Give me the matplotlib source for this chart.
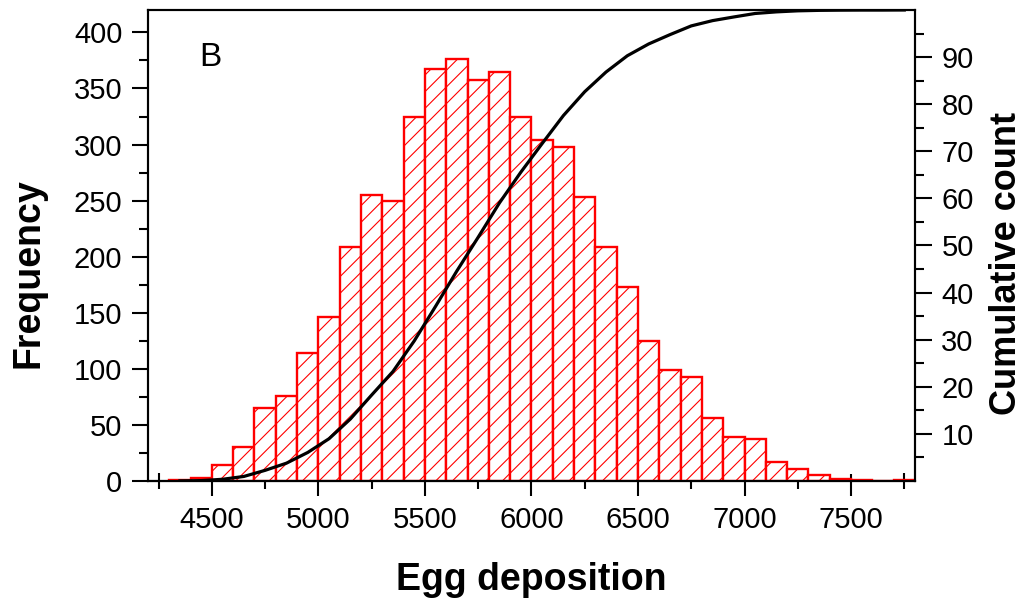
import numpy as np
import matplotlib
matplotlib.use("Agg")
import matplotlib.pyplot as plt
from matplotlib.ticker import MultipleLocator, FixedLocator

plt.rcParams['font.family'] = ['Liberation Sans', 'DejaVu Sans']
plt.rcParams['hatch.linewidth'] = 0.8

# histogram bins (left edge, width 100) and counts
bin_left = [4300, 4400, 4500, 4600, 4700, 4800, 4900, 5000, 5100, 5200,
            5300, 5400, 5500, 5600, 5700, 5800, 5900, 6000, 6100, 6200,
            6300, 6400, 6500, 6600, 6700, 6800, 6900, 7000, 7100, 7200,
            7300, 7400, 7500, 7600, 7700]
counts = [1, 3, 14, 30, 65, 76, 114, 146, 209, 255,
          250, 325, 367, 376, 358, 365, 325, 304, 298, 253,
          209, 173, 125, 99, 93, 56, 39, 37, 17, 11,
          5, 2, 1, 0, 1]
bin_width = 100

bin_left = np.array(bin_left)
counts = np.array(counts)
centers = bin_left + bin_width / 2
cum_pct = np.cumsum(counts) / counts.sum() * 100

fig = plt.figure(figsize=(10.24, 5.98), dpi=100)
ax = fig.add_axes([0.1445, 0.1957, 0.749, 0.7876])

ax.bar(bin_left, counts, width=bin_width, align='edge', facecolor='white',
       edgecolor='red', linewidth=1.7, hatch='//')
ax.set_xlim(4200, 7800)
ax.set_ylim(0, 420)

ax2 = ax.twinx()
ax2.plot(centers, cum_pct, color='black', lw=2.3)
ax2.set_ylim(0, 100)

for a in (ax, ax2):
    for s in a.spines.values():
        s.set_linewidth(1.5)

# x axis ticks: outer part on main axis, inner part on a secondary axis
ax.xaxis.set_major_locator(MultipleLocator(500))
ax.xaxis.set_minor_locator(MultipleLocator(250))
ax.tick_params(axis='x', which='major', direction='out', length=10.8, width=1.5,
               labelsize=21, pad=7)
ax.tick_params(axis='x', which='minor', direction='out', length=5.8, width=1.5)

sec = ax.secondary_xaxis('bottom')
sec.xaxis.set_major_locator(MultipleLocator(500))
sec.xaxis.set_minor_locator(MultipleLocator(250))
sec.tick_params(axis='x', which='major', direction='in', length=5, width=1.5,
                labelbottom=False)
sec.tick_params(axis='x', which='minor', direction='in', length=5.8, width=1.5)
sec.spines['bottom'].set_linewidth(1.5)

# left y axis
ax.yaxis.set_major_locator(MultipleLocator(50))
ax.yaxis.set_minor_locator(MultipleLocator(25))
ax.tick_params(axis='y', which='major', direction='out', length=11.5, width=1.5,
               labelsize=21, pad=7)
ax.tick_params(axis='y', which='minor', direction='out', length=6.5, width=1.5)

# right y axis
ax2.yaxis.set_major_locator(FixedLocator(np.arange(10, 100, 10)))
ax2.yaxis.set_minor_locator(FixedLocator(np.arange(5, 100, 10)))
ax2.tick_params(axis='y', which='major', direction='out', length=12, width=1.5,
                labelsize=21, pad=7)
ax2.tick_params(axis='y', which='minor', direction='out', length=6.5, width=1.5)

ax.set_xlabel('Egg deposition', fontsize=27, fontweight='bold')
ax.xaxis.set_label_coords(0.5, -0.172)
ax.set_ylabel('Frequency', fontsize=27, fontweight='bold')
ax.yaxis.set_label_coords(-0.1317, 0.4416)
ax2.set_ylabel('Cumulative count', fontsize=26, fontweight='bold')
ax2.yaxis.set_label_coords(1.097, 0.4628)

ax.text(0.081, 0.90, 'B', transform=ax.transAxes, fontsize=24,
        ha='center', va='center')

fig.savefig('out.png', dpi=100)
